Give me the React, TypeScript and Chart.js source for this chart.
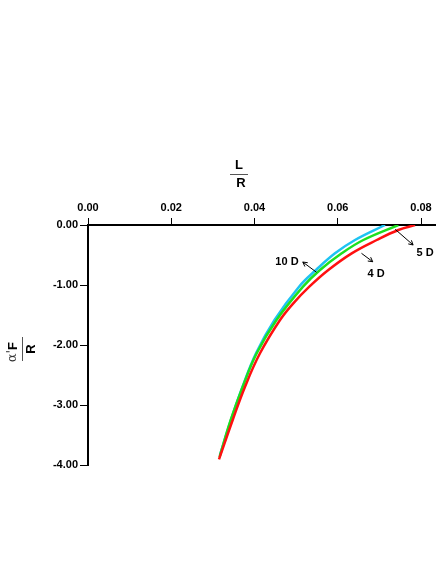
import React, { useEffect, useRef } from "react";
import { Chart, registerables } from "chart.js";

Chart.register(...registerables);

// L/R values and α'F/R values for each curve
const blueX = [0.03171, 0.03435, 0.03712, 0.04036, 0.04481, 0.0507, 0.05477, 0.05934, 0.06414, 0.07135];
const blueY = [-3.833, -3.25, -2.695, -2.138, -1.583, -1.028, -0.75, -0.472, -0.25, 0.0];
const greenX = [0.03159, 0.03428, 0.03717, 0.04053, 0.04529, 0.05165, 0.05574, 0.06095, 0.06614, 0.07455];
const greenY = [-3.867, -3.25, -2.695, -2.138, -1.583, -1.028, -0.75, -0.472, -0.25, 0.0];
const redX = [0.03147, 0.03476, 0.03772, 0.04132, 0.04613, 0.04932, 0.05317, 0.05773, 0.06335, 0.06936, 0.07455, 0.07856];
const redY = [-3.905, -3.25, -2.695, -2.138, -1.583, -1.305, -1.028, -0.75, -0.472, -0.25, -0.083, 0.0];

const xTicks = [0, 0.02, 0.04, 0.06, 0.08];
const yTicks = [0, -1, -2, -3, -4];

// Curve labels with arrows (data units)
const labels = ["10 D", "4 D", "5 D"];
const labelX = [0.0478, 0.0692, 0.081];
const labelY = [-0.622, -0.822, -0.467];
const arrowFromX = [0.0549, 0.0657, 0.0738];
const arrowFromY = [-0.788, -0.472, -0.072];
const arrowToX = [0.0516, 0.0684, 0.0781];
const arrowToY = [-0.617, -0.612, -0.333];

const FONT = "'Liberation Sans', Arial, sans-serif";

const toPts = (xs: number[], ys: number[]) => xs.map((x, i) => ({ x, y: ys[i] }));

const overlay = {
  id: "overlay",
  afterDraw(chart: any) {
    const ctx = chart.ctx as CanvasRenderingContext2D;
    const xs = chart.scales.x;
    const ys = chart.scales.y;
    ctx.save();
    // curve labels and arrows
    ctx.fillStyle = "#000";
    ctx.strokeStyle = "#000";
    ctx.font = `bold 11px ${FONT}`;
    ctx.textAlign = "center";
    ctx.textBaseline = "middle";
    labels.forEach((t, i) => {
      ctx.fillText(t, xs.getPixelForValue(labelX[i]), ys.getPixelForValue(labelY[i]));
      const x1 = xs.getPixelForValue(arrowFromX[i]);
      const y1 = ys.getPixelForValue(arrowFromY[i]);
      const x2 = xs.getPixelForValue(arrowToX[i]);
      const y2 = ys.getPixelForValue(arrowToY[i]);
      ctx.lineWidth = 1;
      ctx.beginPath();
      ctx.moveTo(x1, y1);
      ctx.lineTo(x2, y2);
      ctx.stroke();
      const a = Math.atan2(y2 - y1, x2 - x1);
      const h = 5;
      ctx.beginPath();
      ctx.moveTo(x2 - h * Math.cos(a - 0.5), y2 - h * Math.sin(a - 0.5));
      ctx.lineTo(x2, y2);
      ctx.lineTo(x2 - h * Math.cos(a + 0.5), y2 - h * Math.sin(a + 0.5));
      ctx.stroke();
    });
    // x title L / R
    ctx.font = `bold 13px ${FONT}`;
    ctx.fillText("L", 239, 165);
    ctx.fillText("R", 241, 183);
    ctx.strokeStyle = "#555";
    ctx.lineWidth = 1;
    ctx.beginPath();
    ctx.moveTo(230, 174.5);
    ctx.lineTo(248, 174.5);
    ctx.stroke();
    // y title α'F / R (rotated)
    ctx.translate(22, 349);
    ctx.rotate(-Math.PI / 2);
    ctx.textAlign = "right";
    ctx.font = `13px 'DejaVu Serif', serif`;
    ctx.fillStyle = "#333";
    ctx.fillText("α'", -1, -9);
    ctx.textAlign = "left";
    ctx.font = `bold 13px ${FONT}`;
    ctx.fillStyle = "#000";
    ctx.fillText("F", -1, -9);
    ctx.textAlign = "center";
    ctx.fillText("R", 0, 9);
    ctx.beginPath();
    ctx.moveTo(-12, 0.5);
    ctx.lineTo(12, 0.5);
    ctx.stroke();
    ctx.restore();
  },
};

export default function App() {
  const ref = useRef<HTMLCanvasElement>(null);
  useEffect(() => {
    if (!ref.current) return;
    const common = {
      showLine: true,
      borderWidth: 2.5,
      pointRadius: 0,
      tension: 0.4,
      fill: false,
    };
    const chart = new Chart(ref.current, {
      type: "scatter",
      data: {
        datasets: [
          { ...common, label: "4 D", data: toPts(redX, redY), borderColor: "#FF1010" },
          { ...common, label: "5 D", data: toPts(greenX, greenY), borderColor: "#1EE01E" },
          { ...common, label: "10 D", data: toPts(blueX, blueY), borderColor: "#1EC3F2" },
        ],
      },
      options: {
        animation: false,
        responsive: false,
        maintainAspectRatio: false,
        layout: { padding: { top: 0, left: 0, right: 0, bottom: 99 } },
        plugins: { legend: { display: false }, tooltip: { enabled: false } },
        scales: {
          x: {
            type: "linear",
            position: "top",
            min: 0,
            max: 0.0836,
            afterBuildTicks: (s: any) => {
              s.ticks = xTicks.map((v) => ({ value: v }));
            },
            afterFit: (s: any) => {
              s.height = 225;
            },
            border: { display: true, color: "#000", width: 2 },
            grid: { drawOnChartArea: false, drawTicks: true, tickLength: 7, color: "#000", lineWidth: 1 },
            ticks: {
              padding: 3,
              maxRotation: 0,
              color: "#000",
              font: { family: FONT, size: 11, weight: "bold" },
              callback: (v: any) => Number(v).toFixed(2),
            },
          },
          y: {
            type: "linear",
            min: -4,
            max: 0,
            afterBuildTicks: (s: any) => {
              s.ticks = yTicks.map((v) => ({ value: v }));
            },
            afterFit: (s: any) => {
              s.width = 88;
            },
            border: { display: true, color: "#000", width: 2 },
            grid: { drawOnChartArea: false, drawTicks: true, tickLength: 8, color: "#000", lineWidth: 1 },
            ticks: {
              padding: 2,
              color: "#000",
              font: { family: FONT, size: 11, weight: "bold" },
              callback: (v: any) => Number(v).toFixed(2),
            },
          },
        },
      },
      plugins: [overlay],
    });
    return () => chart.destroy();
  }, []);
  return (
    <div style={{ position: "fixed", left: 0, top: 0, width: 436, height: 564, background: "#fff" }}>
      <canvas ref={ref} width={436} height={564} style={{ width: 436, height: 564 }} />
    </div>
  );
}
